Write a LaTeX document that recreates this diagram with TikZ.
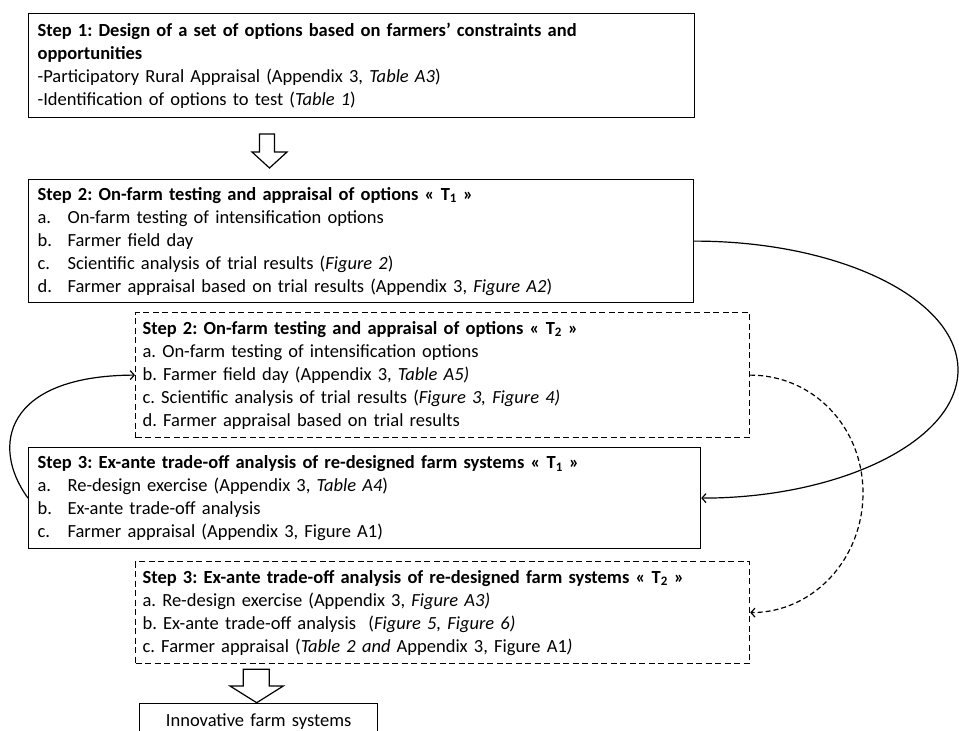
\documentclass[tikz,border=0pt]{standalone}
\usepackage{fontspec}
\setmainfont{Carlito}
\usetikzlibrary{arrows.meta}
\frenchspacing
\newcommand\fsz{\fontsize{18.5}{23}\selectfont}
\newcommand\lbl[1]{\makebox[30pt][l]{#1}}
\tikzset{
  base/.style={draw, line width=1.2pt, anchor=north west, align=left, inner xsep=9pt, inner ysep=0pt, font=\fsz},
  solidbox/.style={base},
  dashbox/.style={base, dash pattern=on 6pt off 3.5pt, inner xsep=7pt},
  conn/.style={line width=1.2pt, -{Straight Barb[length=4pt,width=9pt]}},
  dconn/.style={conn, dash pattern=on 5pt off 3pt},
  hollow/.style={draw, line width=1.2pt, fill=white, line join=miter}
}
\begin{document}
\begin{tikzpicture}[x=1pt,y=-1pt]
\useasboundingbox[fill=white] (0,0) rectangle (959,731);

\node[solidbox, text width=648pt, minimum width=666pt, minimum height=104pt] (s1) at (28,13)
{\textbf{Step 1: Design of a set of options based on farmers’ constraints and}\\
\textbf{opportunities}\\
-Participatory Rural Appraisal (Appendix 3, \textit{Table A3})\\
-Identification of options to test (\textit{Table 1})};

\node[solidbox, text width=647pt, minimum width=665pt, minimum height=123pt] (s2) at (28,179)
{\textbf{Step 2: On-farm testing and appraisal of options « T\textsubscript{1} »}\\
\lbl{a.}On-farm testing of intensification options\\
\lbl{b.}Farmer field day\\
\lbl{c.}Scientific analysis of trial results (\textit{Figure 2})\\
\lbl{d.}Farmer appraisal based on trial results (Appendix 3, \textit{Figure A2})};

\node[dashbox, text width=600pt, minimum width=614pt, minimum height=125pt] (t2) at (135,312)
{\textbf{Step 2: On-farm testing and appraisal of options « T\textsubscript{2} »}\\
a. On-farm testing of intensification options\\
b. Farmer field day (Appendix 3, \textit{Table A5)}\\
c. Scientific analysis of trial results (\textit{Figure 3, Figure 4)}\\
d. Farmer appraisal based on trial results};

\node[solidbox, text width=654pt, minimum width=672pt, minimum height=101pt] (s3) at (28,447)
{\textbf{Step 3: Ex-ante trade-off analysis of re-designed farm systems « T\textsubscript{1} »}\\
\lbl{a.}Re-design exercise (Appendix 3, \textit{Table A4})\\
\lbl{b.}Ex-ante trade-off analysis\\
\lbl{c.}Farmer appraisal (Appendix 3, Figure A1)};

\node[dashbox, text width=600pt, minimum width=614pt, minimum height=102pt] (t3) at (135,561)
{\textbf{Step 3: Ex-ante trade-off analysis of re-designed farm systems « T\textsubscript{2} »}\\
a. Re-design exercise (Appendix 3, \textit{Figure A3)}\\
b. Ex-ante trade-off analysis\ \ (\textit{Figure 5, Figure 6)}\\
c. Farmer appraisal (\textit{Table 2 and} Appendix 3, Figure A1\textit{)}};

\node[solidbox, align=center, text width=220pt, minimum width=238pt, minimum height=36pt] (inn) at (139,703)
{Innovative farm systems};

% hollow block arrows
\coordinate (a1) at (269.5,168);
\draw[hollow] (a1) -- ++(-17.5,-16) -- ++(7.5,0) -- ++(0,-18) -- ++(15,0) -- ++(0,18) -- ++(12.5,0) -- cycle;
\coordinate (a2) at (256.7,702.7);
\draw[hollow] (a2) -- ++(-26.7,-16.7) -- ++(13.3,0) -- ++(0,-16.7) -- ++(26,0) -- ++(0,16.7) -- ++(14,0) -- cycle;

\draw[conn] (s2.east) .. controls +(146,0) and +(0,-71) .. (958,370)
  .. controls +(0,71) and +(139,0) .. (s3.east);
\draw[dconn] (t2.east) .. controls +(63,0) and +(0,-66) .. (863,493)
  .. controls +(0,66) and +(63,0) .. (t3.east);
\draw[conn] (s3.west) .. controls +(-38,-52) and +(-130,0.5) .. (t2.west);
\end{tikzpicture}
\end{document}
